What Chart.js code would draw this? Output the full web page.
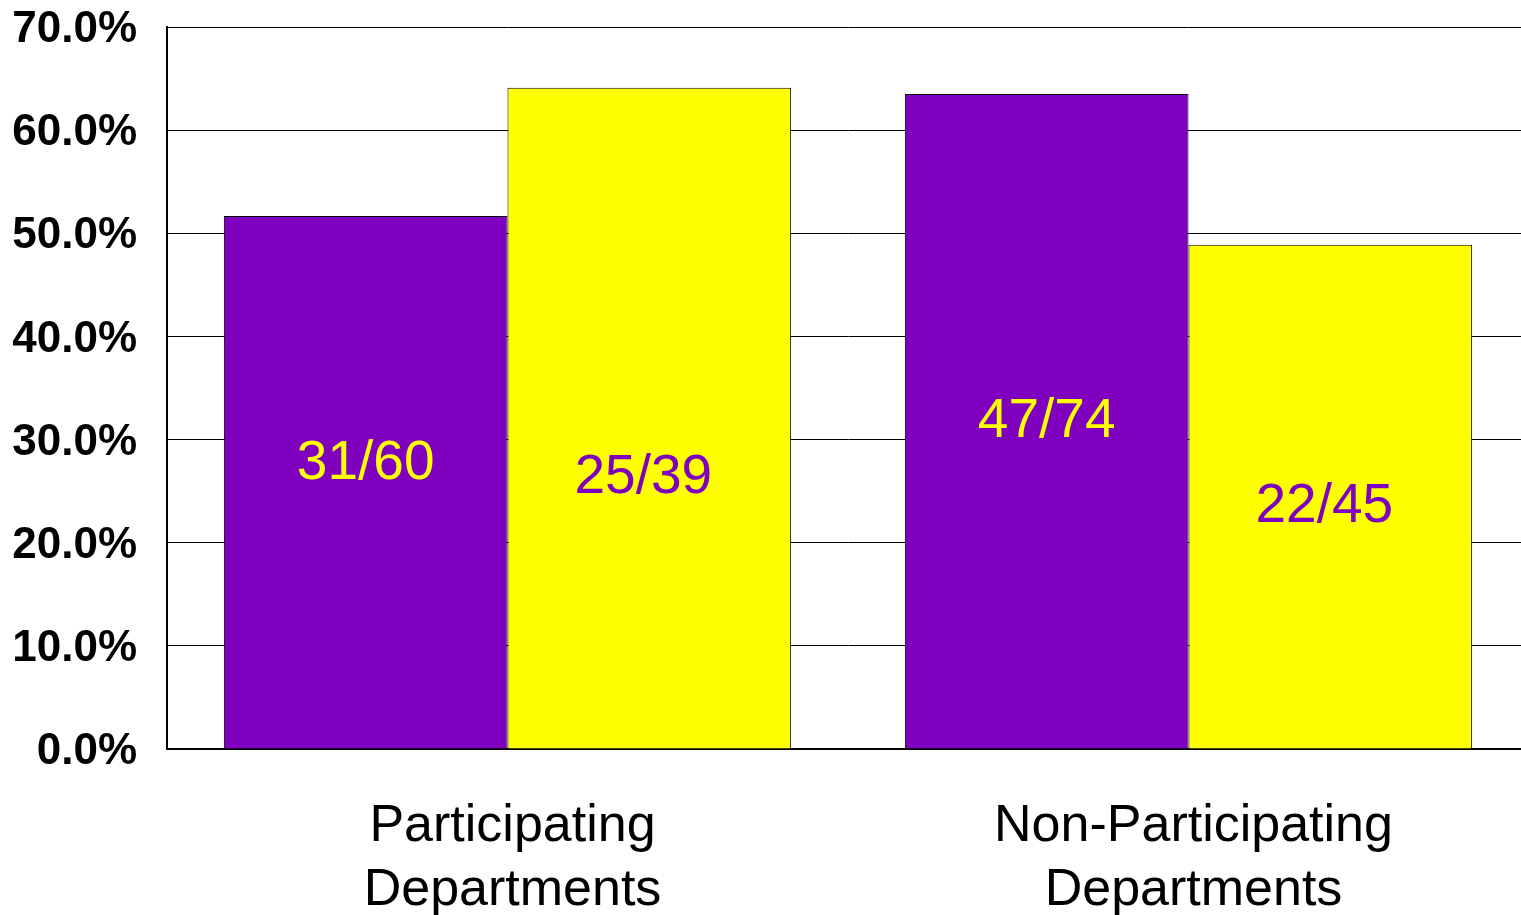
<!DOCTYPE html>
<html>
<head>
<meta charset="utf-8">
<script src="https://cdn.jsdelivr.net/npm/chart.js@4/dist/chart.umd.min.js"></script>
<style>
  html, body { margin: 0; padding: 0; background: #fff; overflow: hidden; }
  #wrap { width: 1529px; height: 915px; }
</style>
</head>
<body>
<div id="wrap"><canvas id="chart"></canvas></div>
<script>
// categories and values
const categories = [['Participating', 'Departments'], ['Non-Participating', 'Departments']];
const purpleValues = [51.67, 63.51];   // 31/60, 47/74
const yellowValues = [64.10, 48.89];   // 25/39, 22/45
const purpleLabels = ['31/60', '47/74'];
const yellowLabels = ['25/39', '22/45'];
// height (in % units) where each fraction label sits
const purpleLabelAt = [27.6, 31.7];
const yellowLabelAt = [26.3, 23.5];
const yTicks = [0, 10, 20, 30, 40, 50, 60, 70];

const PURPLE = '#7F00BF';
const YELLOW = '#FFFF00';
const FONT = '"Liberation Sans", Arial, sans-serif';

// draws the fraction text inside each bar
const fractionLabels = {
    id: 'fractionLabels',
    afterDatasetsDraw(chart) {
        const ctx = chart.ctx;
        const y = chart.scales.y;
        ctx.save();
        ctx.font = '55px ' + FONT;
        ctx.textAlign = 'center';
        ctx.textBaseline = 'middle';
        chart.data.datasets.forEach((ds, i) => {
            chart.getDatasetMeta(i).data.forEach((bar, j) => {
                ctx.fillStyle = ds.textColor;
                ctx.fillText(ds.fractions[j], bar.x + ds.textShift, y.getPixelForValue(ds.labelAt[j]));
            });
        });
        ctx.restore();
    }
};

new Chart(document.getElementById('chart'), {
    type: 'bar',
    data: {
        labels: categories,
        datasets: [
            {
                data: purpleValues,
                backgroundColor: PURPLE,
                borderColor: '#000',
                borderWidth: 1,
                fractions: purpleLabels,
                labelAt: purpleLabelAt,
                textColor: YELLOW,
                textShift: 0
            },
            {
                data: yellowValues,
                backgroundColor: YELLOW,
                borderColor: '#000',
                borderWidth: 1,
                fractions: yellowLabels,
                labelAt: yellowLabelAt,
                textColor: PURPLE,
                textShift: -6
            }
        ]
    },
    options: {
        responsive: true,
        maintainAspectRatio: false,
        animation: false,
        layout: { padding: { top: 27, right: 0, bottom: 0, left: 0 } },
        datasets: { bar: { categoryPercentage: 0.833, barPercentage: 1.0 } },
        plugins: { legend: { display: false }, tooltip: { enabled: false } },
        scales: {
            x: {
                grid: { display: false, drawTicks: false },
                border: { color: '#000', width: 2 },
                ticks: {
                    color: '#000',
                    font: { family: FONT, size: 52, lineHeight: 1.24 },
                    padding: 45,
                    labelOffset: 5,
                    maxRotation: 0
                },
                afterFit(scale) {
                    scale.height = 166;
                    scale.paddingTop = 0;
                    scale.paddingBottom = 0;
                }
            },
            y: {
                min: 0,
                max: 70,
                afterBuildTicks(scale) { scale.ticks = yTicks.map(v => ({ value: v })); },
                grid: { color: '#000', lineWidth: 1, drawTicks: false },
                border: { color: '#000', width: 2 },
                ticks: {
                    color: '#000',
                    font: { family: FONT, size: 44, weight: 'bold' },
                    padding: 30,
                    labelOffset: 3,
                    callback: v => v.toFixed(1) + '%'
                },
                afterFit(scale) {
                    scale.width = 167;
                    scale.paddingTop = 0;
                    scale.paddingBottom = 0;
                }
            }
        }
    },
    plugins: [fractionLabels]
});
</script>
</body>
</html>
